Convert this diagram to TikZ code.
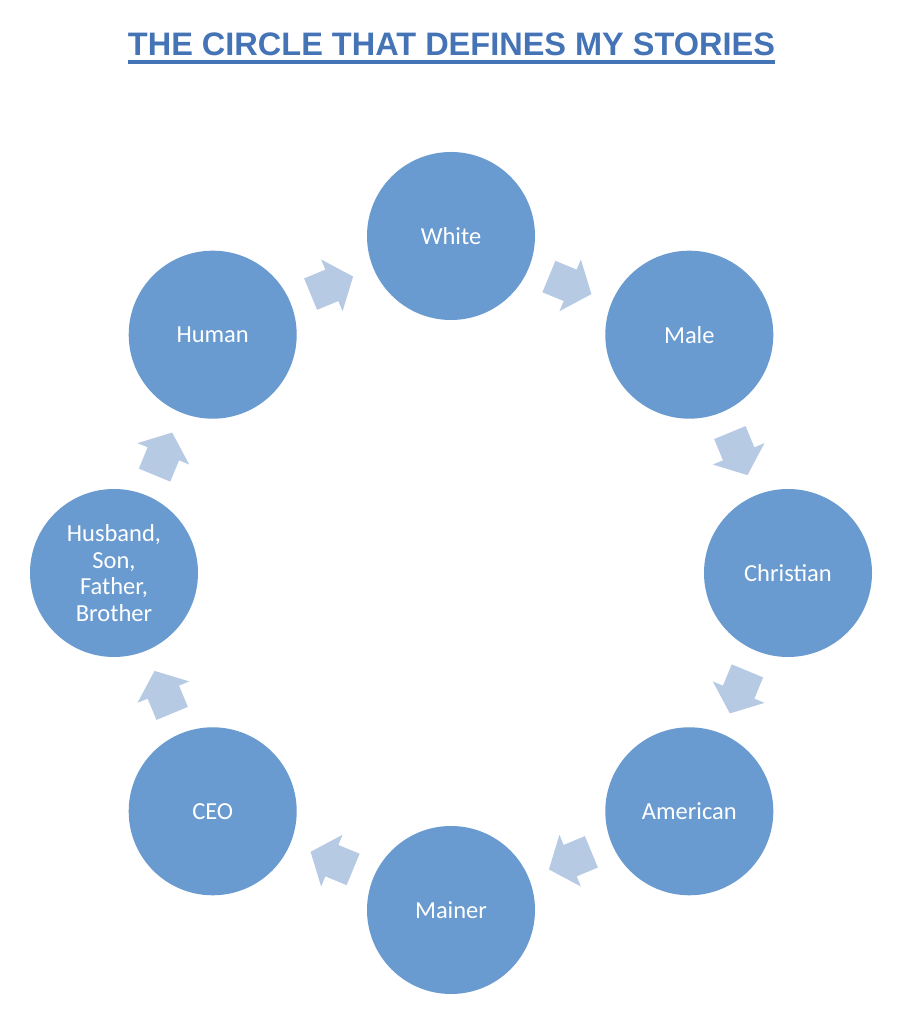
\documentclass[tikz,border=0pt]{standalone}
\usepackage{fontspec}
\setmainfont{Carlito}
\newfontfamily\titlefont{Liberation Sans}
\usetikzlibrary{calc}
\definecolor{circfill}{RGB}{105,155,208}
\definecolor{arrfill}{RGB}{183,202,228}
\definecolor{titleblue}{RGB}{68,116,182}
\tikzset{
  stage/.style={circle, fill=circfill, minimum size=168pt, inner sep=0pt,
    text=white, align=center, font=\fontsize{24.5}{26.5}\selectfont},
  blockarrow/.pic={\fill[arrfill] (-23,-17) -- (0,-17) -- (0,-28) -- (23,0) -- (0,28) -- (0,17) -- (-23,17) -- cycle;}
}
\begin{document}
\begin{tikzpicture}[x=1pt,y=1pt]
\useasboundingbox (0,0) rectangle (901,1024);
\fill[white] (0,0) rectangle (901,1024);
% title
\node[inner sep=0pt, anchor=base, text=titleblue, font=\titlefont\bfseries\fontsize{32.5}{39}\selectfont] (title) at (451.5,968.7) {THE CIRCLE THAT DEFINES MY STORIES};
\draw[titleblue, line width=3.3pt] ([yshift=-6.7pt]title.base west) -- ([yshift=-6.7pt]title.base east);
% circles
\node[stage] (white) at (451,788) {White};
\node[stage] (male) at (689.3,689.3) {Male};
\node[stage] (christian) at (788,451) {Christian};
\node[stage] (american) at (689.3,212.7) {American};
\node[stage] (mainer) at (451,114) {Mainer};
\node[stage] (ceo) at (212.7,212.7) {CEO};
\node[stage] (family) at (114,451) {Husband,\\Son,\\Father,\\Brother};
\node[stage] (human) at (212.7,689.3) {Human};
% arrows
\path ($(white)!0.5!(male)$) pic[rotate=-22.5] {blockarrow};
\path ($(male)!0.5!(christian)$) pic[rotate=-67.5] {blockarrow};
\path ($(christian)!0.5!(american)$) pic[rotate=-112.5] {blockarrow};
\path ($(american)!0.5!(mainer)$) pic[rotate=-157.5] {blockarrow};
\path ($(mainer)!0.5!(ceo)$) pic[rotate=-202.5] {blockarrow};
\path ($(ceo)!0.5!(family)$) pic[rotate=-247.5] {blockarrow};
\path ($(family)!0.5!(human)$) pic[rotate=-292.5] {blockarrow};
\path ($(human)!0.5!(white)$) pic[rotate=-337.5] {blockarrow};
\end{tikzpicture}
\end{document}
